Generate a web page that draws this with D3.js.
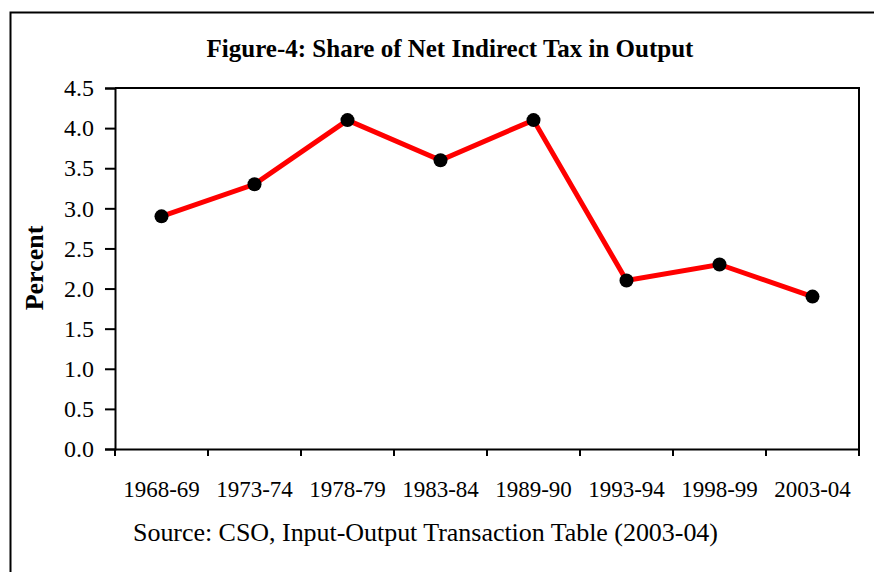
<!DOCTYPE html>
<html>
<head>
<meta charset="utf-8">
<script src="https://cdn.jsdelivr.net/npm/d3@7"></script>
<style>
  body { margin: 0; background: #fff; }
  text { font-family: "Liberation Serif", "Times New Roman", serif; fill: #000; }
</style>
</head>
<body>
<div id="container"></div>
<script>
const years = ["1968-69", "1973-74", "1978-79", "1983-84", "1989-90", "1993-94", "1998-99", "2003-04"];
const share = [2.9, 3.3, 4.1, 3.6, 4.1, 2.1, 2.3, 1.9];
const yTicks = [0, 0.5, 1, 1.5, 2, 2.5, 3, 3.5, 4, 4.5];

const w = 874;
const h = 572;
const padLeft = 115, padRight = 859, padTop = 88, padBottom = 449;

const svg = d3.select("#container")
  .append("svg")
  .attr("width", w)
  .attr("height", h);

// outer frame
svg.append("path")
  .attr("d", "M10.5," + h + " V12.5 H" + w)
  .attr("fill", "none")
  .attr("stroke", "#000")
  .attr("stroke-width", 2);

svg.append("text")
  .attr("x", 450)
  .attr("y", 57)
  .attr("text-anchor", "middle")
  .attr("font-weight", "bold")
  .attr("font-size", 25)
  .text("Figure-4: Share of Net Indirect Tax in Output");

const xScale = d3.scaleBand()
  .domain(years)
  .range([padLeft, padRight]);

const yScale = d3.scaleLinear()
  .domain([0, 4.5])
  .range([padBottom, padTop]);

// plot border (top and right)
svg.append("path")
  .attr("d", "M" + padLeft + "," + padTop + " H" + padRight + " V" + padBottom)
  .attr("fill", "none")
  .attr("stroke", "#000")
  .attr("stroke-width", 2);

const yAxis = d3.axisLeft(yScale)
  .tickValues(yTicks)
  .tickFormat(d3.format(".1f"))
  .tickSize(10)
  .tickPadding(11);
const gy = svg.append("g")
  .attr("transform", "translate(" + padLeft + ",0)")
  .call(yAxis);
gy.attr("font-family", null).attr("font-size", null);
gy.selectAll("text")
  .style("font-size", "24px")
  .style("font-family", "'Liberation Serif', serif");
gy.selectAll("line, path").attr("stroke", "#000").attr("stroke-width", 2);

const xAxis = d3.axisBottom(xScale)
  .tickSize(7)
  .tickSizeOuter(0)
  .tickFormat("")
  .tickValues([]);
const gx = svg.append("g")
  .attr("transform", "translate(0," + padBottom + ")")
  .call(xAxis);
gx.attr("font-family", null).attr("font-size", null);
gx.select("path").attr("stroke", "#000").attr("stroke-width", 2);

// category boundary ticks
const bounds = years.map((d) => xScale(d)).concat([padRight]);
gx.selectAll(".bound")
  .data(bounds)
  .enter()
  .append("line")
  .attr("class", "bound")
  .attr("x1", (d) => d)
  .attr("x2", (d) => d)
  .attr("y1", 0)
  .attr("y2", 7)
  .attr("stroke", "#000")
  .attr("stroke-width", 2);

gx.selectAll(".lab")
  .data(years)
  .enter()
  .append("text")
  .attr("class", "lab")
  .attr("x", (d) => xScale(d) + xScale.bandwidth() / 2)
  .attr("y", 48)
  .attr("text-anchor", "middle")
  .attr("font-size", 23)
  .text((d) => d);

svg.append("text")
  .attr("transform", "translate(43," + 268 + ") rotate(-90)")
  .attr("text-anchor", "middle")
  .attr("font-weight", "bold")
  .attr("font-size", 26)
  .text("Percent");

const line = d3.line()
  .x((d, i) => xScale(years[i]) + xScale.bandwidth() / 2)
  .y((d) => yScale(d));

svg.append("path")
  .datum(share)
  .attr("d", line)
  .attr("fill", "none")
  .attr("stroke", "#ff0000")
  .attr("stroke-width", 5);

svg.selectAll(".dot")
  .data(share)
  .enter()
  .append("circle")
  .attr("class", "dot")
  .attr("cx", (d, i) => xScale(years[i]) + xScale.bandwidth() / 2)
  .attr("cy", (d) => yScale(d))
  .attr("r", 7)
  .attr("fill", "#000");

svg.append("text")
  .attr("x", 133)
  .attr("y", 541)
  .attr("font-size", 26)
  .attr("textLength", 585)
  .text("Source: CSO, Input-Output Transaction Table (2003-04)");
</script>
</body>
</html>
